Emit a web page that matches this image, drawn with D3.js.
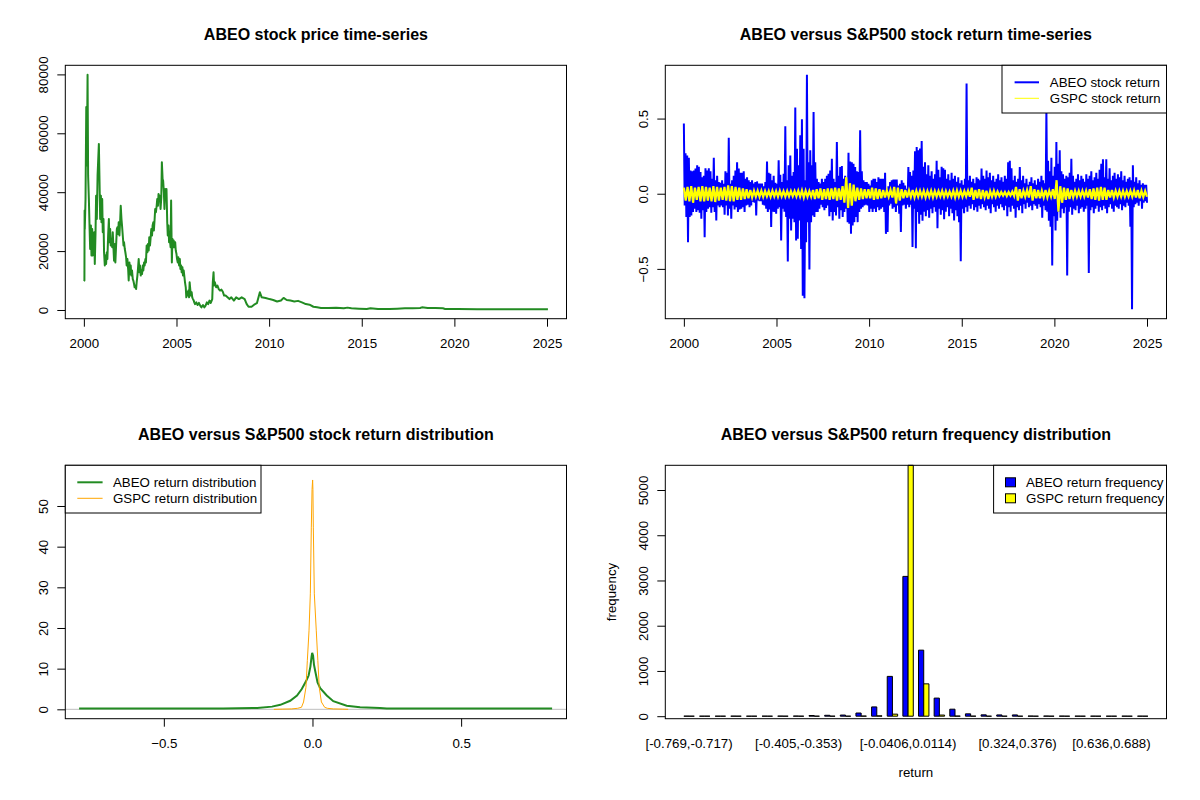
<!DOCTYPE html>
<html><head><meta charset="utf-8">
<script src="https://cdn.jsdelivr.net/npm/d3@7"></script>
<style>body{margin:0;background:#fff}svg{display:block}</style>
</head><body><svg id="c" width="1200" height="800"></svg>
<script>
// ---------------- DATA ----------------
const titles = ["ABEO stock price time-series","ABEO versus S&P500 stock return time-series",
  "ABEO versus S&P500 stock return distribution","ABEO versus S&P500 return frequency distribution"];
const yearTicks = [2000,2005,2010,2015,2020,2025];
const priceTicks = [0,20000,40000,60000,80000];
const returnTicks = [-0.5,0,0.5];
const densityYTicks = [0,10,20,30,40,50];
const freqTicks = [0,1000,2000,3000,4000,5000];

// ABEO price [year, price]
const abeoPrice = [[2000.00,9800],[2000.03,10000],[2000.04,33800],[2000.05,27500],[2000.09,37700],[2000.13,68900],[2000.16,49100],[2000.20,79900],[2000.23,45700],[2000.27,37700],[2000.31,27500],[2000.34,20700],[2000.38,28700],[2000.41,18500],[2000.45,27500],[2000.48,18500],[2000.52,19600],[2000.56,26400],[2000.59,15600],[2000.63,26400],[2000.66,38800],[2000.70,30900],[2000.74,45700],[2000.77,50200],[2000.81,56400],[2000.84,45700],[2000.88,30900],[2000.92,38800],[2000.95,29800],[2000.99,37700],[2001.02,26400],[2001.06,30900],[2001.09,19600],[2001.13,15100],[2001.17,18500],[2001.20,15600],[2001.24,19600],[2001.27,17300],[2001.31,25300],[2001.35,30900],[2001.38,23000],[2001.42,27500],[2001.45,21900],[2001.49,24200],[2001.53,21300],[2001.56,26400],[2001.60,20700],[2001.63,16700],[2001.67,22400],[2001.70,16100],[2001.74,21900],[2001.78,27500],[2001.81,28100],[2001.85,25800],[2001.88,29800],[2001.92,25300],[2001.96,30300],[2001.99,35400],[2002.03,30900],[2002.06,28700],[2002.10,25300],[2002.14,21900],[2002.17,23000],[2002.21,20700],[2002.24,19600],[2002.28,17900],[2002.31,15100],[2002.35,17300],[2002.39,13900],[2002.42,10000],[2002.46,16100],[2002.49,12200],[2002.53,15100],[2002.56,11700],[2002.60,13400],[2002.64,10500],[2002.67,10000],[2002.71,8800],[2002.74,7700],[2002.78,8200],[2002.82,7100],[2002.85,9400],[2002.89,11700],[2002.92,13900],[2002.96,17300],[2003.00,12800],[2003.03,15100],[2003.07,11700],[2003.10,13400],[2003.14,12200],[2003.18,15100],[2003.21,13400],[2003.25,16100],[2003.28,15100],[2003.32,17300],[2003.35,16100],[2003.39,21900],[2003.43,19600],[2003.46,22400],[2003.50,20200],[2003.53,24700],[2003.57,21900],[2003.60,24200],[2003.64,27500],[2003.68,25300],[2003.71,28700],[2003.75,29800],[2003.78,27000],[2003.82,30900],[2003.85,34300],[2003.89,33200],[2003.93,35400],[2003.96,37700],[2004.00,35400],[2004.03,39400],[2004.07,37700],[2004.10,38800],[2004.14,34300],[2004.18,38200],[2004.21,50200],[2004.25,44500],[2004.28,43900],[2004.32,39900],[2004.35,34300],[2004.39,41100],[2004.43,37700],[2004.46,41100],[2004.50,29800],[2004.53,25300],[2004.57,28700],[2004.60,23000],[2004.64,24200],[2004.68,21300],[2004.71,37200],[2004.75,16100],[2004.78,24200],[2004.82,21300],[2004.85,23600],[2004.89,21300],[2004.93,23000],[2004.96,20200],[2005.00,19000],[2005.03,17300],[2005.07,16100],[2005.10,17900],[2005.14,15100],[2005.18,17300],[2005.21,13900],[2005.25,15100],[2005.28,12800],[2005.32,14500],[2005.35,11700],[2005.39,13400],[2005.43,11100],[2005.46,9400],[2005.50,7700],[2005.53,4300],[2005.57,6000],[2005.60,4900],[2005.64,6600],[2005.68,4300],[2005.71,9400],[2005.75,6600],[2005.78,4900],[2005.82,6000],[2005.85,4300],[2005.89,3700],[2005.93,3200],[2005.96,2600],[2006.00,2000],[2006.07,2600],[2006.14,1700],[2006.21,2400],[2006.28,1500],[2006.35,900],[2006.43,1700],[2006.50,900],[2006.57,1500],[2006.64,2600],[2006.71,2000],[2006.78,3200],[2006.85,2400],[2006.93,3700],[2006.96,9400],[2007.00,12800],[2007.03,8300],[2007.07,9400],[2007.14,7700],[2007.21,8300],[2007.28,7100],[2007.35,6600],[2007.43,6900],[2007.50,6200],[2007.57,4900],[2007.65,4900],[2007.86,3700],[2007.96,4300],[2008.10,3200],[2008.22,4300],[2008.37,3700],[2008.52,4300],[2008.68,3700],[2008.79,2000],[2008.89,1100],[2009.05,1100],[2009.19,1800],[2009.34,2300],[2009.50,6000],[2009.60,4300],[2009.81,4100],[2010.02,3700],[2010.22,3400],[2010.43,2900],[2010.64,3200],[2010.78,4100],[2010.95,3400],[2011.15,3200],[2011.36,2900],[2011.56,3100],[2011.77,2600],[2011.98,2000],[2012.18,1800],[2012.39,1100],[2012.59,900],[2012.80,700],[2013.21,700],[2013.62,800],[2014.03,570],[2014.23,800],[2014.44,570],[2014.85,450],[2015.27,340],[2015.47,570],[2015.88,340],[2016.50,340],[2016.91,450],[2017.33,570],[2017.74,570],[2018.15,680],[2018.25,900],[2018.56,680],[2018.97,680],[2019.38,570],[2019.50,340],[2020.20,340],[2021.24,280],[2022.26,230],[2023.29,230],[2024.32,230],[2025.05,230]];

// ABEO daily return envelope: successive high / low swings, 2000 -> 2025
const retStartYear = 2000.0, retEndYear = 2025.0;
const abeoRetHigh = [0.467,0.27,0.255,0.24,0.155,0.15,0.155,0.167,0.19,0.18,
0.145,0.11,0.12,0.17,0.155,0.17,0.15,0.10,0.24,0.09,
0.12,0.078,0.073,0.09,0.067,0.15,0.14,0.373,0.067,0.09,
0.12,0.155,0.21,0.167,0.14,0.14,0.15,0.10,0.11,0.09,
0.078,0.09,0.067,0.078,0.082,0.067,0.067,0.067,0.05,0.078,
0.215,0.14,0.133,0.09,0.12,0.073,0.067,0.222,0.127,0.078,
0.133,0.449,0.09,0.19,0.255,0.12,0.145,0.573,0.30,0.19,
0.389,0.495,0.30,0.09,0.792,0.21,0.29,0.19,0.544,0.21,
0.10,0.078,0.067,0.10,0.078,0.10,0.12,0.133,0.155,0.233,
0.10,0.078,0.344,0.12,0.178,0.185,0.10,0.12,0.078,0.273,
0.215,0.21,0.20,0.178,0.15,0.145,0.422,0.15,0.09,0.078,
0.078,0.067,0.055,0.09,0.10,0.10,0.078,0.11,0.10,0.10,
0.10,0.14,0.033,0.05,0.078,0.09,0.095,0.095,0.095,0.055,
0.067,0.09,0.073,0.055,0.033,0.178,0.145,0.12,0.155,0.282,
0.311,
0.29,0.30,0.35,0.18,0.21,0.13,0.19,0.12,0.15,0.10,
0.13,0.22,0.16,0.11,0.18,0.17,0.16,0.10,0.13,0.09,
0.14,0.10,0.12,0.08,0.11,0.07,0.09,0.06,0.10,0.733,
0.09,0.12,0.08,0.10,0.07,0.11,0.10,0.09,0.167,0.12,
0.10,0.155,0.11,0.14,0.09,0.12,0.08,0.10,0.13,0.09,
0.11,0.08,0.12,0.10,0.21,0.22,0.17,0.09,0.12,0.08,
0.10,0.178,0.09,0.12,0.07,0.10,0.06,0.08,0.11,0.07,
0.09,0.06,0.10,0.08,0.12,0.09,0.07,0.56,0.22,0.15,
0.24,0.12,0.18,0.344,0.20,0.29,0.15,0.13,0.10,0.12,
0.11,0.14,0.233,0.12,0.08,0.10,0.13,0.09,0.12,0.10,
0.08,0.13,0.10,0.12,0.15,0.09,0.11,0.14,0.10,0.16,
0.20,0.23,0.11,0.23,0.10,0.17,0.09,0.12,0.14,0.10,
0.13,0.11,0.15,0.09,0.12,0.08,0.10,0.11,0.09,0.19,
0.08,0.11,0.07,0.09,0.06,0.07,0.06,0.06];
const abeoRetLow = [-0.078,-0.155,-0.322,-0.155,-0.144,-0.122,-0.10,-0.122,-0.11,-0.127,
-0.167,-0.11,-0.289,-0.122,-0.10,-0.089,-0.127,-0.09,-0.122,-0.178,
-0.078,-0.089,-0.078,-0.089,-0.14,-0.078,-0.144,-0.10,-0.167,-0.078,
-0.104,-0.089,-0.122,-0.104,-0.10,-0.089,-0.122,-0.078,-0.073,-0.089,
-0.078,-0.055,-0.06,-0.144,-0.044,-0.05,-0.05,-0.073,-0.078,-0.10,
-0.122,-0.104,-0.222,-0.12,-0.122,-0.133,-0.10,-0.089,-0.311,-0.10,
-0.12,-0.155,-0.451,-0.167,-0.244,-0.167,-0.189,-0.311,-0.30,-0.178,
-0.367,-0.678,-0.696,-0.322,-0.189,-0.504,-0.189,-0.144,-0.155,-0.122,
-0.122,-0.10,-0.073,-0.089,-0.11,-0.095,-0.078,-0.149,-0.122,-0.178,
-0.122,-0.144,-0.089,-0.167,-0.11,-0.155,-0.122,-0.10,-0.189,-0.20,
-0.267,-0.211,-0.189,-0.155,-0.189,-0.122,-0.10,-0.089,-0.078,-0.073,
-0.078,-0.122,-0.10,-0.122,-0.10,-0.122,-0.089,-0.11,-0.10,-0.089,
-0.122,-0.267,-0.255,-0.078,-0.067,-0.10,-0.089,-0.122,-0.078,-0.133,
-0.255,-0.078,-0.073,-0.10,-0.073,-0.089,-0.073,-0.355,-0.10,-0.362,
-0.122,
-0.20,-0.14,-0.18,-0.12,-0.15,-0.11,-0.16,-0.10,-0.13,-0.09,
-0.12,-0.229,-0.10,-0.14,-0.11,-0.17,-0.12,-0.09,-0.15,-0.10,
-0.13,-0.178,-0.11,-0.15,-0.19,-0.449,-0.10,-0.13,-0.09,-0.12,
-0.08,-0.10,-0.07,-0.11,-0.09,-0.12,-0.08,-0.10,-0.07,-0.09,
-0.11,-0.08,-0.10,-0.13,-0.07,-0.09,-0.12,-0.08,-0.10,-0.07,
-0.09,-0.11,-0.08,-0.15,-0.09,-0.12,-0.08,-0.10,-0.16,-0.09,
-0.11,-0.08,-0.13,-0.07,-0.10,-0.06,-0.09,-0.08,-0.11,-0.07,
-0.08,-0.10,-0.07,-0.09,-0.16,-0.08,-0.11,-0.12,-0.18,-0.22,
-0.478,-0.15,-0.244,-0.18,-0.12,-0.16,-0.10,-0.13,-0.09,-0.544,
-0.12,-0.09,-0.14,-0.10,-0.11,-0.08,-0.13,-0.10,-0.09,-0.12,
-0.10,-0.08,-0.527,-0.11,-0.09,-0.13,-0.10,-0.08,-0.12,-0.09,
-0.11,-0.08,-0.10,-0.13,-0.09,-0.07,-0.10,-0.12,-0.08,-0.09,
-0.10,-0.07,-0.11,-0.08,-0.09,-0.06,-0.08,-0.22,-0.769,-0.09,
-0.07,-0.06,-0.08,-0.05,-0.10,-0.06,-0.05,-0.06];

// GSPC daily return envelope, every 0.2 year 2000 -> 2025
const gspcRetHigh = [0.04,0.045,0.05,0.04,0.045, 0.05,0.045,0.04,0.05,0.045, 0.04,0.045,0.055,0.05,0.045,
 0.04,0.035,0.03,0.025,0.02, 0.02,0.02,0.018,0.018,0.02, 0.018,0.02,0.017,0.018,0.018,
 0.018,0.02,0.022,0.02,0.018, 0.025,0.03,0.035,0.03,0.035, 0.035,0.04,0.035,0.05,0.11,
 0.07,0.06,0.04,0.035,0.03, 0.03,0.04,0.035,0.03,0.025, 0.022,0.025,0.045,0.04,0.03,
 0.025,0.022,0.025,0.02,0.02, 0.02,0.018,0.02,0.018,0.018, 0.02,0.018,0.015,0.02,0.022,
 0.02,0.018,0.02,0.04,0.025, 0.03,0.025,0.02,0.018,0.02, 0.015,0.012,0.012,0.012,0.015,
 0.045,0.03,0.02,0.025,0.05, 0.03,0.025,0.02,0.025,0.02, 0.03,0.09,0.05,0.04,0.035,
 0.025,0.02,0.02,0.02,0.02, 0.03,0.035,0.04,0.045,0.04, 0.025,0.025,0.02,0.02,0.02,
 0.018,0.02,0.022,0.025,0.02, 0.018];
const gspcRetLow = [-0.045,-0.05,-0.06,-0.04,-0.05, -0.05,-0.045,-0.05,-0.055,-0.045, -0.04,-0.045,-0.05,-0.05,-0.04,
 -0.04,-0.035,-0.03,-0.025,-0.02, -0.02,-0.02,-0.018,-0.02,-0.018, -0.02,-0.018,-0.02,-0.018,-0.017,
 -0.018,-0.02,-0.025,-0.02,-0.02, -0.035,-0.03,-0.04,-0.035,-0.04, -0.035,-0.045,-0.04,-0.06,-0.095,
 -0.08,-0.05,-0.04,-0.035,-0.03, -0.03,-0.04,-0.035,-0.03,-0.025, -0.02,-0.025,-0.065,-0.045,-0.03,
 -0.025,-0.022,-0.025,-0.02,-0.02, -0.025,-0.02,-0.025,-0.02,-0.018, -0.022,-0.018,-0.02,-0.025,-0.02,
 -0.02,-0.018,-0.02,-0.04,-0.03, -0.035,-0.025,-0.035,-0.02,-0.02, -0.015,-0.012,-0.015,-0.012,-0.015,
 -0.045,-0.03,-0.02,-0.025,-0.045, -0.03,-0.03,-0.025,-0.025,-0.02, -0.035,-0.12,-0.06,-0.04,-0.035,
 -0.025,-0.02,-0.02,-0.02,-0.025, -0.035,-0.04,-0.045,-0.04,-0.04, -0.025,-0.025,-0.02,-0.02,-0.02,
 -0.018,-0.02,-0.025,-0.03,-0.022, -0.02];

// Kernel density of returns
const abeoDensX = [-0.785,-0.5,-0.3,-0.2,-0.186,-0.136,-0.108,-0.075,-0.052,-0.036,-0.021,-0.013,-0.007,-0.003,-0.001,0.002,0.005,0.009,0.017,0.026,0.048,0.07,0.115,0.16,0.227,0.25,0.3,0.5,0.806];
const abeoDensY = [0.18,0.2,0.2,0.3,0.33,0.66,1.1,2.1,3.4,5.0,7.0,8.3,10.5,13.0,13.9,13.2,11.0,9.5,6.6,5.2,3.4,2.0,0.9,0.5,0.33,0.22,0.2,0.18,0.18];
const gspcDensX = [-0.13,-0.1,-0.07,-0.05,-0.037,-0.03,-0.022,-0.0173,-0.0117,-0.0072,-0.0039,-0.0015,0.0005,0.0015,0.0028,0.0062,0.0128,0.018,0.0228,0.03,0.041,0.05,0.07,0.1,0.12];
const gspcDensY = [0,0.05,0.1,0.25,0.5,1.8,5.4,12,19.3,28.4,44.8,54,56.4,54,44.8,28.4,19.3,12,5.4,1.8,0.5,0.25,0.1,0.05,0];
const densityYMax = 57.7;

// Return frequency (30 bins of width 0.052 from -0.769)
const binIndex = d3.range(30);
const abeoFreq = [1,0,0,1,0,1,2,3,15,20,25,70,205,880,3090,1460,400,155,52,30,28,28,3,3,2,1,1,0,1,1];
const gspcFreq = [0,0,0,0,0,0,0,0,0,0,0,3,8,45,5546,715,25,3,1,0,0,0,0,0,0,0,0,0,0,0];
const binLabelIndex = [0,7,14,21,27];
const binLabels = ["[-0.769,-0.717)","[-0.405,-0.353)","[-0.0406,0.0114)","[0.324,0.376)","[0.636,0.688)"];

const legendRet = ["ABEO stock return","GSPC stock return"];
const legendDens = ["ABEO return distribution","GSPC return distribution"];
const legendFreq = ["ABEO return frequency","GSPC return frequency"];

// ---------------- DRAWING ----------------
const FONT = "'Liberation Sans', Arial, Helvetica, sans-serif";
const svg = d3.select('#c').attr('font-family', FONT);
const FS = 13.3;
function frame(col,row){ return {L: col*600+65.3, R: col*600+566.5, T: row*400+65.3, B: row*400+318.7, id: 'p'+col+row}; }
function ext(a,b){ const d=(b-a)*0.04; return [a-d,b+d]; }
const defs = svg.append('defs');
function clip(p){ defs.append('clipPath').attr('id','clip'+p.id).append('rect').attr('x',p.L).attr('y',p.T).attr('width',p.R-p.L).attr('height',p.B-p.T); return 'url(#clip'+p.id+')'; }
function title(p,t){ svg.append('text').attr('x',(p.L+p.R)/2).attr('y',p.T-25.3).attr('text-anchor','middle').attr('font-weight','bold').attr('font-size',16).text(t); }
function box(p){ svg.append('rect').attr('x',p.L).attr('y',p.T).attr('width',p.R-p.L).attr('height',p.B-p.T).attr('fill','none').attr('stroke','#000').attr('stroke-width',1); }
function xAxis(p,x,ticks,fmt,size){
  const g = svg.append('g').attr('transform',`translate(0,${p.B})`)
    .call(d3.axisBottom(x).tickValues(ticks).tickFormat(fmt).tickSize(size===undefined?8:size));
  g.attr('font-family',FONT).attr('font-size',FS);
  g.select('.domain').remove();
  g.selectAll('line').attr('stroke','#000');
  g.selectAll('text').attr('y',29.3).attr('dy',null).attr('fill','#000');
  return g;
}
function yAxis(p,y,ticks,fmt){
  const g = svg.append('g').attr('transform',`translate(${p.L},0)`)
    .call(d3.axisLeft(y).tickValues(ticks).tickFormat(fmt).tickSize(8));
  g.attr('font-family',FONT).attr('font-size',FS);
  g.select('.domain').remove();
  g.selectAll('line').attr('stroke','#000');
  g.selectAll('text').attr('x',null).attr('dy',null).attr('fill','#000')
    .attr('text-anchor','middle').attr('transform','translate(-17.3,0) rotate(-90)');
  return g;
}
const fmt1 = d3.format('.1f');
const fmtD = d3.format('d');

// Panel 1: price
{
  const p = frame(0,0);
  const x = d3.scaleLinear().domain(ext(...d3.extent(abeoPrice,d=>d[0]))).range([p.L,p.R]);
  const y = d3.scaleLinear().domain(ext(...d3.extent(abeoPrice,d=>d[1]))).range([p.B,p.T]);
  svg.append('path').datum(abeoPrice).attr('clip-path',clip(p))
    .attr('d',d3.line().x(d=>x(d[0])).y(d=>y(d[1])))
    .attr('fill','none').attr('stroke','#228B22').attr('stroke-width',2).attr('stroke-linejoin','round');
  box(p); title(p,titles[0]);
  xAxis(p,x,yearTicks,fmtD); yAxis(p,y,priceTicks,fmtD);
}

const retExtent = d3.extent(abeoRetHigh.concat(abeoRetLow));

// Panel 2: returns time series
{
  const p = frame(1,0);
  const x = d3.scaleLinear().domain(ext(d3.min(abeoPrice,d=>d[0]), d3.max(abeoPrice,d=>d[0]))).range([p.L,p.R]);
  const y = d3.scaleLinear().domain(ext(...retExtent)).range([p.B,p.T]);
  function swings(hi,lo){
    const n = hi.length, pts = [];
    const t = d3.scaleLinear().domain([0, 2*n-1]).range([retStartYear, retEndYear]);
    for (let i=0;i<n;i++){ pts.push([t(2*i),hi[i]]); pts.push([t(2*i+1),lo[i]]); }
    return pts;
  }
  const line = d3.line().x(d=>x(d[0])).y(d=>y(d[1]));
  const cp = clip(p);
  svg.append('path').datum(swings(abeoRetHigh,abeoRetLow)).attr('clip-path',cp).attr('d',line)
    .attr('fill','none').attr('stroke','#0000FF').attr('stroke-width',2);
  svg.append('path').datum(swings(gspcRetHigh,gspcRetLow)).attr('clip-path',cp).attr('d',line)
    .attr('fill','none').attr('stroke','#FFFF00').attr('stroke-width',2.2);
  box(p); title(p,titles[1]);
  xAxis(p,x,yearTicks,fmtD); yAxis(p,y,returnTicks,fmt1);
  // legend
  const lg = svg.append('g');
  lg.append('rect').attr('x',1002).attr('y',p.T).attr('width',p.R-1002).attr('height',113-p.T).attr('fill','#fff').attr('stroke','#000');
  const cols = ['#0000FF','#FFFF00'], lw=[2,1];
  legendRet.forEach((t,i)=>{
    const yy = 82.3+16*i;
    lg.append('line').attr('x1',1014.6).attr('x2',1039).attr('y1',yy).attr('y2',yy).attr('stroke',cols[i]).attr('stroke-width',lw[i]);
    lg.append('text').attr('x',1049.8).attr('y',yy+4.7).attr('font-size',FS).text(t);
  });
}

// Panel 3: density
{
  const p = frame(0,1);
  const x = d3.scaleLinear().domain(ext(...retExtent)).range([p.L,p.R]);
  const y = d3.scaleLinear().domain(ext(0,densityYMax)).range([p.B,p.T]);
  const cp = clip(p);
  svg.append('line').attr('x1',p.L).attr('x2',p.R).attr('y1',y(0)).attr('y2',y(0)).attr('stroke','#BEBEBE').attr('stroke-width',1);
  const line = d3.line().x(d=>x(d[0])).y(d=>y(d[1]));
  svg.append('path').datum(d3.zip(abeoDensX,abeoDensY)).attr('clip-path',cp).attr('d',line)
    .attr('fill','none').attr('stroke','#228B22').attr('stroke-width',2);
  svg.append('path').datum(d3.zip(gspcDensX,gspcDensY)).attr('clip-path',cp).attr('d',line)
    .attr('fill','none').attr('stroke','#FFA500').attr('stroke-width',1);
  box(p); title(p,titles[2]);
  xAxis(p,x,returnTicks,fmt1); yAxis(p,y,densityYTicks,fmtD);
  const lg = svg.append('g');
  lg.append('rect').attr('x',p.L).attr('y',p.T).attr('width',261-p.L).attr('height',513-p.T).attr('fill','#fff').attr('stroke','#000');
  const cols = ['#228B22','#FFA500'], lw=[2,1];
  legendDens.forEach((t,i)=>{
    const yy = 482.3+16*i;
    lg.append('line').attr('x1',77.3).attr('x2',102.6).attr('y1',yy).attr('y2',yy).attr('stroke',cols[i]).attr('stroke-width',lw[i]);
    lg.append('text').attr('x',113).attr('y',yy+4.7).attr('font-size',FS).text(t);
  });
}

// Panel 4: frequency barplot
{
  const p = frame(1,1);
  const nG = binIndex.length;
  const u = d3.scaleLinear().domain(ext(1, 3*nG)).range([p.L,p.R]);
  const x0 = d3.scaleBand().domain(binIndex).range([u(0.5),u(3*nG+0.5)]).paddingInner(1/3).paddingOuter(1/6);
  const x1 = d3.scaleBand().domain(['ABEO','GSPC']).range([0,x0.bandwidth()]);
  const ymax = d3.max(abeoFreq.concat(gspcFreq));
  const y = d3.scaleLinear().domain([-0.01*ymax, ymax]).range([p.B,p.T]);
  const rows = binIndex.map(i=>({i, vals:[{k:'ABEO',v:abeoFreq[i]},{k:'GSPC',v:gspcFreq[i]}]}));
  const fill = {ABEO:'#0000FF', GSPC:'#FFFF00'};
  svg.append('g').selectAll('g').data(rows).join('g')
    .attr('transform',d=>`translate(${x0(d.i)},0)`)
    .selectAll('path').data(d=>d.vals).join('path')
    .attr('d',d=>{ const a=x1(d.k), b=a+x1.bandwidth(), y0=y(0), y1=y(d.v); return `M${a},${y0}H${b}V${y1}H${a}Z`; })
    .attr('fill',d=>fill[d.k]).attr('stroke','#000').attr('stroke-width',1);
  box(p); title(p,titles[3]);
  const names = svg.append('g').attr('font-size',FS);
  binLabelIndex.forEach((gi,j)=>{
    names.append('text').attr('x',x0(gi)+x0.bandwidth()/2).attr('y',p.B+29.3).attr('text-anchor','middle').text(binLabels[j]);
  });
  yAxis(p,y,freqTicks,fmtD);
  svg.append('text').attr('x',(p.L+p.R)/2).attr('y',777).attr('text-anchor','middle').attr('font-size',FS).text('return');
  svg.append('text').attr('transform',`translate(616,${(p.T+p.B)/2}) rotate(-90)`).attr('text-anchor','middle').attr('font-size',FS).text('frequency');
  const lg = svg.append('g');
  lg.append('rect').attr('x',993.6).attr('y',p.T).attr('width',p.R-993.6).attr('height',513-p.T).attr('fill','#fff').attr('stroke','#000');
  const cols = ['#0000FF','#FFFF00'];
  legendFreq.forEach((t,i)=>{
    const yy = 482.3+16*i;
    lg.append('rect').attr('x',1005.5).attr('y',yy-4.5).attr('width',10).attr('height',9).attr('fill',cols[i]).attr('stroke','#000');
    lg.append('text').attr('x',1026).attr('y',yy+4.7).attr('font-size',FS).text(t);
  });
}
</script></body></html>
